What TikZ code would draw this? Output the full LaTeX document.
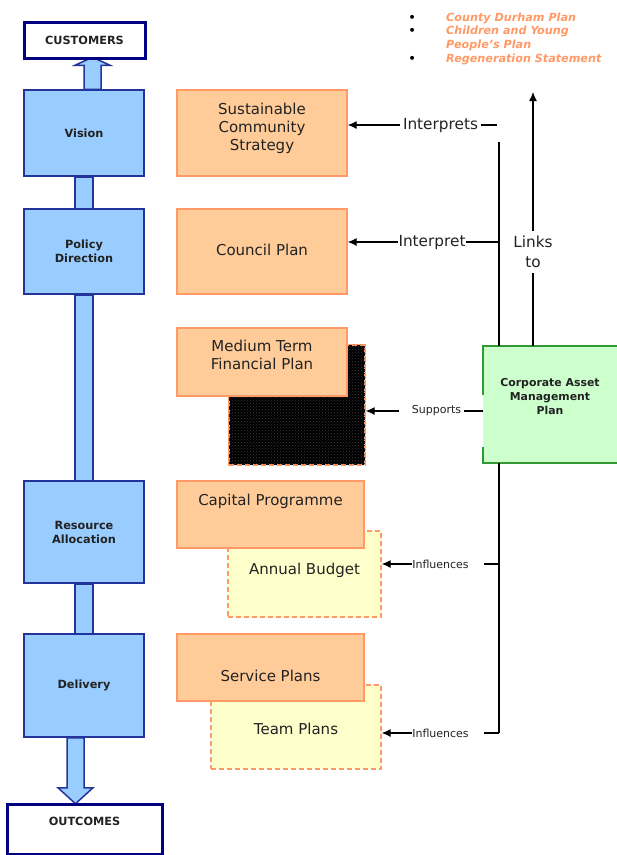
\documentclass[tikz,border=0pt]{standalone}
\usepackage{fontspec}
\setmainfont{DejaVu Sans}
\usetikzlibrary{arrows.meta,patterns,calc}
\definecolor{bluefill}{HTML}{99CCFF}
\definecolor{bluedraw}{HTML}{23349A}
\definecolor{navy}{HTML}{000080}
\definecolor{orangefill}{HTML}{FFCC99}
\definecolor{orangedraw}{HTML}{FF9966}
\definecolor{yellowfill}{HTML}{FFFFCC}
\definecolor{greenfill}{HTML}{CCFFCC}
\definecolor{greendraw}{HTML}{339933}
\definecolor{textgray}{HTML}{222222}
\definecolor{bullettext}{HTML}{FF9966}
\begin{document}
\begin{tikzpicture}[x=1pt,y=-1pt,
 bluebox/.style={draw=bluedraw, fill=bluefill, line width=1.5pt, line join=miter},
 stage/.style={bluebox, minimum width=120pt, inner sep=0, align=center, font=\fontsize{11.3}{14}\selectfont\bfseries, text=textgray},
 endbox/.style={draw=navy, fill=white, line width=3pt, font=\fontsize{11.3}{13}\selectfont\bfseries, text=textgray},
 planbox/.style={draw=orangedraw, fill=orangefill, line width=1.3pt, inner sep=0},
 dashbox/.style={draw=orangedraw, line width=1.3pt, dash pattern=on 5pt off 3pt, inner sep=0},
 plantext/.style={font=\fontsize{15}{18}\selectfont, align=center, text=textgray},
 camptext/.style={font=\fontsize{10.9}{14}\selectfont\bfseries, align=center, text=textgray},
 conn/.style={line width=1.2pt},
 arr/.style={conn, -{Latex[length=9pt,width=8pt]}},
 smalllab/.style={font=\fontsize{11}{12}\selectfont, text=textgray, inner sep=0},
 midlab/.style={font=\fontsize{15.3}{20}\selectfont, text=textgray}]
\useasboundingbox (0,0) rectangle (617,855);

% ---------- left column : stages ----------
\node[stage, minimum height=86pt] (vision) at (84,133) {Vision};
\node[stage, minimum height=85pt] (policy) at (84,251.5) {Policy\\Direction};
\node[stage, minimum height=102pt] (resource) at (84,532) {Resource\\Allocation};
\node[stage, minimum height=103pt] (delivery) at (84,685.5) {Delivery};

% connectors between stages (stage boxes redrawn on top afterwards)
\path[bluebox] ($(vision.south)+(-9,0)$) rectangle ($(policy.north)+(9,0)$);
\path[bluebox] ($(policy.south)+(-9,0)$) rectangle ($(resource.north)+(9,0)$);
\path[bluebox] ($(resource.south)+(-9,0)$) rectangle ($(delivery.north)+(9,0)$);

% up arrow to customers
\path[bluebox] (vision.north) -- ($(vision.north)+(0,-24)$) -- ($(vision.north)+(-9,-24)$)
  -- ($(vision.north)+(8.5,-32)$) -- ($(vision.north)+(26,-24)$) -- ($(vision.north)+(17,-24)$)
  -- ($(vision.north)+(17,0)$) -- cycle;
% down arrow to outcomes
\path[bluebox] ($(delivery.south)+(-17,0)$) -- ($(delivery.south)+(-17,50)$) -- ($(delivery.south)+(-26,50)$)
  -- ($(delivery.south)+(-8.5,66)$) -- ($(delivery.south)+(9,50)$) -- ($(delivery.south)+(0,50)$)
  -- (delivery.south) -- cycle;

\node[stage, minimum height=86pt] at (vision) {Vision};
\node[stage, minimum height=85pt] at (policy) {Policy\\Direction};
\node[stage, minimum height=102pt] at (resource) {Resource\\Allocation};
\node[stage, minimum height=103pt] at (delivery) {Delivery};

\node[endbox, minimum width=121pt, minimum height=36pt, inner sep=0] (cust) at (84.5,40) {CUSTOMERS};
\node[endbox, anchor=north, minimum width=155pt, inner xsep=0, inner ysep=4pt, text height=17pt, text depth=25pt] (outc) at (84.5,803) {OUTCOMES};

% ---------- middle column : plans ----------
\node[planbox, minimum width=170pt, minimum height=86pt,
  label={[plantext, yshift=5pt]center:Sustainable\\Community\\Strategy}] (scs) at (262,133) {};
\node[planbox, minimum width=170pt, minimum height=85pt,
  label={[plantext, yshift=2pt]center:Council Plan}] (cplan) at (262,251.5) {};

\node[dashbox, fill=black, minimum width=136pt, minimum height=120pt] (bb) at (297,405) {};
\fill[pattern=crosshatch dots, pattern color=gray!45!black] (bb.south west) rectangle (bb.north east);
\draw[draw=orangedraw, line width=1.3pt, dash pattern=on 5pt off 3pt] (bb.south west) rectangle (bb.north east);
\node[planbox, minimum width=170pt, minimum height=68pt,
  label={[plantext, yshift=7pt]center:Medium Term\\Financial Plan}] (mtfp) at (262,362) {};

\node[dashbox, fill=yellowfill, minimum width=153pt, minimum height=86pt,
  label={[plantext, yshift=4pt]center:Annual Budget}] (ab) at (304.5,574) {};
\node[planbox, minimum width=187pt, minimum height=67pt,
  label={[plantext, yshift=13.5pt]center:Capital Programme}] (capprog) at (270.5,514.5) {};

\node[dashbox, fill=yellowfill, minimum width=170pt, minimum height=84pt,
  label={[plantext, yshift=-1.5pt]center:Team Plans}] (tp) at (296,727) {};
\node[planbox, minimum width=187pt, minimum height=67pt,
  label={[plantext, yshift=-8pt]center:Service Plans}] (sp) at (270.5,667.5) {};

% ---------- right column ----------
\node[fill=greenfill, minimum width=134pt, minimum height=117pt, inner sep=0,
  label={[camptext, yshift=7.5pt]center:Corporate Asset\\Management\\Plan}] (camp) at (550,404.5) {};
\draw[greendraw, line width=1.5pt] (camp.north east) -- (camp.north west) -- ($(camp.north west)+(0,49)$);
\draw[greendraw, line width=1.5pt] ($(camp.south west)+(0,-16)$) -- (camp.south west) -- (camp.south east);

\coordinate (trtop) at (499,142);
\coordinate (trbot) at (499,733);
\coordinate (linkstop) at (533,92);

% trunk line
\draw[conn] (trtop) -- (trtop |- camp.north);
\draw[conn] (trtop |- camp.south) -- (trbot);

% Interprets
\node[midlab, inner sep=3pt, text height=11pt, text depth=3pt] (interps) at (440.5,125) {Interprets};
\draw[arr] (interps.west) -- (interps.west -| scs.east);
\draw[conn] (interps.east) -- ++(16,0);

% Interpret
\node[midlab, inner sep=0, text height=11pt, text depth=3pt] (interp) at (432,242) {Interpret};
\draw[arr] (interp.west) -- (interp.west -| cplan.east);
\draw[conn] (interp.east) -- (interp.east -| trtop);

% Links to
\node[midlab, align=center, inner xsep=2pt, inner ysep=5pt] (links) at (533,252) {Links\\to};
\draw[conn] (links.south |- camp.north) -- (links.south);
\draw[arr] (links.north) -- (linkstop);

% Supports
\node[smalllab] (sup) at (436.5,411) {Supports};
\draw[arr] ([xshift=-13pt]sup.west) -- (sup.west -| bb.east);
\draw[conn] (sup.east -| camp.west) -- ([xshift=3pt]sup.east);

% Influences
\node[smalllab] (inf1) at (440.5,564) {Influences};
\draw[arr] (inf1.west) -- (inf1.west -| ab.east);
\draw[conn] (inf1.east -| trtop) -- ([xshift=15pt]inf1.east);

\node[smalllab] (inf2) at (440.5,733) {Influences};
\draw[arr] (inf2.west) -- (inf2.west -| tp.east);
\draw[conn] (trbot) -- ([xshift=15pt]inf2.east);

% bullet list
\node[anchor=north west, inner sep=0, font=\fontsize{11.2}{13.7}\selectfont] (bullets) at (408.5,11.5) {%
\begin{tabular}{@{}p{37.5pt}@{}l@{}}
\textbf{\textbullet} & \color{bullettext}\bfseries\itshape County Durham Plan\\
\textbf{\textbullet} & \color{bullettext}\bfseries\itshape Children and Young\\
 & \color{bullettext}\bfseries\itshape People’s Plan\\
\textbf{\textbullet} & \color{bullettext}\bfseries\itshape Regeneration Statement
\end{tabular}};
\end{tikzpicture}
\end{document}
